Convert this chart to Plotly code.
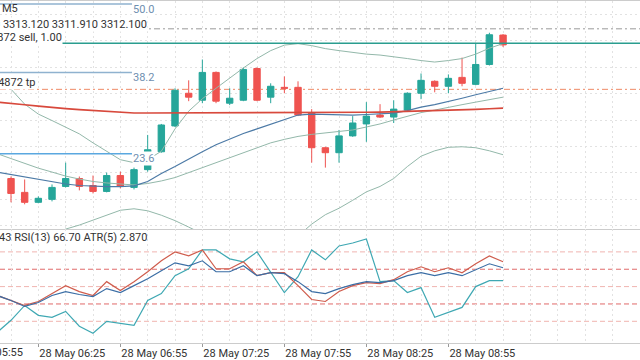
import plotly.graph_objects as go

# ---------------- data ----------------
bar_idx = list(range(37))
opens = [3299.47, 3298.16, 3297.22, 3297.50, 3298.72, 3299.47, 3298.81, 3298.25, 3299.75, 3298.63,
         3300.31, 3302.00, 3304.44, 3307.53, 3306.87, 3309.50, 3306.59, 3306.87, 3309.87, 3307.16,
         3308.09, 3308.09, 3305.66, 3302.38, 3301.91, 3303.50, 3304.63, 3305.47, 3305.28, 3305.94,
         3307.53, 3308.66, 3308.19, 3309.03, 3308.37, 3310.25, 3313.03]
highs = [3299.66, 3299.38, 3297.78, 3298.91, 3300.97, 3299.66, 3299.75, 3300.03, 3300.12, 3300.50,
         3303.59, 3304.63, 3308.00, 3308.75, 3310.72, 3309.59, 3308.00, 3309.97, 3309.97, 3308.47,
         3309.12, 3308.66, 3306.03, 3302.47, 3304.06, 3305.37, 3306.69, 3306.50, 3306.87, 3307.62,
         3309.40, 3308.75, 3309.31, 3310.90, 3312.22, 3313.25, 3313.12]
lows = [3297.22, 3297.03, 3297.13, 3297.31, 3298.63, 3298.35, 3298.06, 3298.16, 3298.53, 3298.44,
        3300.12, 3301.91, 3304.34, 3306.78, 3306.59, 3306.59, 3306.41, 3306.78, 3306.78, 3306.59,
        3307.53, 3305.37, 3300.97, 3300.50, 3300.97, 3303.41, 3302.94, 3305.19, 3304.72, 3305.84,
        3306.97, 3307.62, 3307.53, 3308.19, 3308.28, 3310.15, 3311.91]
closes = [3298.06, 3297.22, 3297.60, 3298.63, 3299.47, 3298.72, 3298.25, 3299.75, 3298.72, 3300.31,
          3302.19, 3304.53, 3307.81, 3307.16, 3309.50, 3306.78, 3307.06, 3309.78, 3306.87, 3308.19,
          3308.00, 3305.47, 3302.38, 3301.91, 3303.50, 3304.72, 3305.37, 3305.28, 3306.03, 3307.53,
          3308.75, 3308.19, 3308.94, 3308.47, 3310.25, 3313.06, 3312.10]

line_idx = list(range(-1, 37))
ma_slow = [3306.69, 3306.59, 3306.45, 3306.31, 3306.17, 3306.08, 3305.98, 3305.89, 3305.80, 3305.70,
           3305.66, 3305.66, 3305.66, 3305.66, 3305.66, 3305.66, 3305.66, 3305.66, 3305.66, 3305.66,
           3305.66, 3305.66, 3305.66, 3305.66, 3305.67, 3305.69, 3305.71, 3305.73, 3305.75, 3305.78,
           3305.81, 3305.84, 3305.88, 3305.92, 3305.97, 3306.01, 3306.07, 3306.12]
ma_fast = [3300.08, 3299.85, 3299.66, 3299.42, 3299.19, 3298.95, 3298.81, 3298.72, 3298.70, 3298.70,
           3298.77, 3299.19, 3299.94, 3300.60, 3301.34, 3302.00, 3302.66, 3303.22, 3303.73, 3304.16,
           3304.58, 3305.05, 3305.47, 3305.56, 3305.52, 3305.47, 3305.47, 3305.52, 3305.56, 3305.66,
           3305.89, 3306.22, 3306.45, 3306.73, 3307.06, 3307.39, 3307.72, 3308.00]
bb_upper = [3308.75, 3307.91, 3306.50, 3305.56, 3304.95, 3304.34, 3303.69, 3302.84, 3302.05, 3301.25,
            3300.97, 3301.25, 3302.05, 3304.16, 3305.84, 3307.01, 3308.00, 3308.98, 3309.92, 3310.81,
            3311.56, 3312.08, 3312.22, 3312.03, 3311.75, 3311.56, 3311.37, 3311.23, 3311.14, 3311.00,
            3310.81, 3310.62, 3310.48, 3310.62, 3310.81, 3311.23, 3311.79, 3312.22]
bb_mid = [3301.81, 3301.34, 3300.88, 3300.45, 3300.08, 3299.70, 3299.42, 3299.19, 3299.05, 3298.95,
          3298.86, 3299.00, 3299.24, 3299.56, 3300.03, 3300.55, 3300.97, 3301.44, 3301.91, 3302.38,
          3302.84, 3303.17, 3303.45, 3303.64, 3303.78, 3303.92, 3304.06, 3304.34, 3304.63, 3305.00,
          3305.37, 3305.70, 3305.94, 3306.22, 3306.45, 3306.69, 3306.92, 3307.16]
bb_lower = [3290.94, 3291.69, 3292.63, 3293.47, 3294.13, 3294.69, 3295.07, 3295.53, 3296.00, 3296.47,
            3296.61, 3296.42, 3296.00, 3295.49, 3294.88, 3294.22, 3293.57, 3293.00, 3292.63, 3292.44,
            3292.54, 3293.00, 3294.03, 3295.16, 3296.05, 3296.66, 3297.41, 3298.21, 3298.72, 3299.47,
            3300.60, 3301.58, 3302.09, 3302.42, 3302.47, 3302.38, 3302.09, 3301.72]

rsi_red = [44.86, 42.00, 39.14, 41.43, 46.00, 50.57, 47.14, 44.86, 52.86, 47.71,
           52.86, 58.57, 64.86, 70.00, 67.71, 71.14, 60.29, 60.29, 64.29, 56.29,
           58.00, 58.00, 50.57, 42.57, 41.43, 47.14, 50.57, 52.29, 51.71, 54.00,
           58.57, 61.43, 58.57, 60.86, 58.00, 63.14, 67.71, 64.29]
rsi_blue = [44.86, 42.00, 38.57, 40.86, 44.86, 47.14, 45.43, 44.29, 48.86, 46.57,
            50.57, 54.57, 59.14, 63.71, 62.00, 64.86, 58.57, 58.57, 62.00, 56.29,
            58.00, 57.43, 52.86, 47.14, 46.00, 48.86, 51.14, 52.86, 52.29, 53.43,
            56.29, 58.00, 56.29, 58.00, 56.29, 59.71, 63.14, 60.86]
rsi_teal = [23.71, 30.57, 39.14, 33.43, 32.29, 35.71, 27.14, 23.14, 30.00, 28.86,
            27.71, 42.00, 46.00, 56.29, 60.29, 71.14, 71.14, 66.00, 64.29, 70.00,
            58.57, 46.57, 55.71, 71.14, 65.43, 73.43, 75.14, 77.43, 52.86, 53.43,
            46.57, 49.43, 32.29, 35.14, 38.00, 50.00, 53.43, 53.43]
rsi_levels = [70, 60, 50, 40, 30]

fib_levels = [3315.96, 3309.50, 3301.81]
fib_labels = ["50.0", "38.2", "23.6"]
fib_end = 8.85
sell_price = 3312.26
ask_price = 3313.62
tp_price = 3307.90

tick_idx = [2, 8, 14, 20, 26, 32]
tick_text = ["28 May 06:25", "28 May 06:55", "28 May 07:25", "28 May 07:55", "28 May 08:25", "28 May 08:55"]
first_label_idx = -4
first_label = "28 May 05:55"

header_lines = ["XAUUSD, M5", "3313.030 3313.120 3311.910 3312.100", "54872 sell, 1.00"]
tp_label = "54872 tp"
ind_label = "1.43 RSI(13) 66.70 ATR(5) 2.870"

# ---------------- style ----------------
W, H = 640, 360
GREEN = "#26a69a"
RED = "#ef5350"
GRID = "#e2e2e2"
TXT = "#333333"
FONT = "Roboto"
XR = [-0.805, 46.02]
YR = [3294.69, 3316.25]
RR = [17.43, 83.14]
MAIN_DOM = [0.3611, 1.0]
SUB_DOM = [0.04167, 0.3611]

fig = go.Figure()

fig.add_trace(go.Candlestick(
    x=bar_idx, open=opens, high=highs, low=lows, close=closes,
    xaxis="x", yaxis="y", whiskerwidth=0, hoverinfo="skip", showlegend=False,
    increasing=dict(line=dict(color=GREEN, width=1), fillcolor=GREEN),
    decreasing=dict(line=dict(color=RED, width=1), fillcolor=RED),
))

for ys, col, w in [(bb_upper, "#93b8aa", 1), (bb_mid, "#93b8aa", 1), (bb_lower, "#93b8aa", 1),
                   (ma_fast, "#4c7aa6", 1.2), (ma_slow, "#d8493c", 1.6)]:
    fig.add_trace(go.Scatter(x=line_idx, y=ys, mode="lines", line=dict(color=col, width=w),
                             xaxis="x", yaxis="y", hoverinfo="skip", showlegend=False))

for ys, col in [(rsi_teal, "#3fa8b3"), (rsi_red, "#cf5c4c"), (rsi_blue, "#3b6ea5")]:
    fig.add_trace(go.Scatter(x=line_idx, y=ys, mode="lines", line=dict(color=col, width=1.2),
                             xaxis="x2", yaxis="y2", hoverinfo="skip", showlegend=False))

shapes = []
shapes.append(dict(type="line", xref="paper", x0=0, x1=1, yref="y", y0=ask_price, y1=ask_price,
                   line=dict(color="#9a9a9a", width=1, dash="6px,3px,2px,3px"), layer="below"))
shapes.append(dict(type="line", xref="paper", x0=0, x1=1, yref="y", y0=tp_price, y1=tp_price,
                   line=dict(color="#ef8a65", width=1, dash="6px,3px,2px,3px"), layer="below"))
shapes.append(dict(type="line", xref="paper", x0=0, x1=1, yref="y", y0=sell_price, y1=sell_price,
                   line=dict(color="#2a9d8f", width=1.5), layer="above"))
for lvl, col in zip(fib_levels, ["#8fb2cf", "#8fb2cf", "#5aa8e0"]):
    shapes.append(dict(type="line", xref="x", x0=XR[0] - 2, x1=fib_end, yref="y", y0=lvl, y1=lvl,
                       line=dict(color=col, width=1.5), layer="above"))
for lvl in rsi_levels:
    col = "#e06a6a" if lvl in (60, 40) else "#f0b4b0"
    shapes.append(dict(type="line", xref="paper", x0=0, x1=1, yref="y2", y0=lvl, y1=lvl,
                       line=dict(color=col, width=1, dash="5px,3px"), layer="below"))

annotations = []
for lvl, lab in zip(fib_levels, fib_labels):
    annotations.append(dict(text=lab, xref="x", yref="y", x=fib_end, y=lvl, xanchor="left",
                            yanchor="middle", yshift=-5, showarrow=False, bgcolor="white",
                            font=dict(family=FONT, size=11, color="#6f8fb0"), borderpad=0))

def px_y(ypx):
    return 1 - ypx / H

hdr_pos = [(8, "left", 0), (24, "right", 148), (36.5, "right", 63)]
for txt, (ypx, anc, xpx) in zip(header_lines, hdr_pos):
    if anc == "left":
        annotations.append(dict(text="M5", xref="paper", yref="paper", x=0, y=px_y(ypx), xanchor="left",
                                yanchor="middle", showarrow=False, font=dict(family=FONT, size=11, color=TXT)))
    else:
        annotations.append(dict(text=txt, xref="paper", yref="paper", x=xpx / W, y=px_y(ypx), xanchor="right",
                                yanchor="middle", showarrow=False, bgcolor="white", borderpad=0,
                                font=dict(family=FONT, size=11, color=TXT)))
annotations.append(dict(text=tp_label, xref="paper", yref="paper", x=36 / W, y=px_y(82), xanchor="right",
                        yanchor="middle", showarrow=False, bgcolor="white", borderpad=0,
                        font=dict(family=FONT, size=11, color=TXT)))
annotations.append(dict(text=ind_label, xref="paper", yref="paper", x=149 / W, y=px_y(238), xanchor="right",
                        yanchor="middle", showarrow=False, font=dict(family=FONT, size=11, color=TXT)))

bar_px = W / (XR[1] - XR[0])
annotations.append(dict(text=first_label, xref="x2", yref="paper", x=XR[0] + 0.001, y=SUB_DOM[0],
                        xanchor="left", yanchor="top", xshift=(first_label_idx - XR[0]) * bar_px - 1, yshift=-1,
                        showarrow=False, font=dict(family=FONT, size=11, color=TXT)))

fig.update_layout(
    width=W, height=H, margin=dict(l=0, r=0, t=0, b=0),
    paper_bgcolor="white", plot_bgcolor="white", showlegend=False, boxgap=0.33,
    font=dict(family=FONT, size=11, color=TXT),
    shapes=shapes, annotations=annotations,
    xaxis=dict(domain=[0, 1], range=XR, anchor="y", showticklabels=False, ticks="",
               showline=True, mirror=True, linecolor="#cccccc", linewidth=1,
               showgrid=True, tickmode="linear", tick0=0, dtick=2, gridcolor=GRID, griddash="2px,3px",
               zeroline=False, rangeslider=dict(visible=False), fixedrange=True),
    yaxis=dict(domain=MAIN_DOM, range=YR, anchor="x", showticklabels=False, ticks="",
               showgrid=True, tickmode="linear", tick0=3305, dtick=2.5, gridcolor=GRID, griddash="2px,3px",
               zeroline=False, fixedrange=True),
    xaxis2=dict(domain=[0, 1], range=XR, anchor="y2", tickmode="array", tickvals=tick_idx, ticktext=tick_text,
                ticks="outside", ticklen=3, tickcolor="#999999", ticklabelposition="outside right",
                showline=True, linecolor="#cccccc", linewidth=1,
                showgrid=True, gridcolor=GRID, griddash="2px,3px",
                minor=dict(tickmode="linear", tick0=0, dtick=2, showgrid=True, gridcolor=GRID, griddash="2px,3px", ticks=""),
                zeroline=False, tickfont=dict(family=FONT, size=11, color=TXT), fixedrange=True),
    yaxis2=dict(domain=SUB_DOM, range=RR, anchor="x2", showticklabels=False, ticks="", showgrid=False,
                zeroline=False, fixedrange=True),
)

fig.write_html("out.html", config={"displayModeBar": False},
               post_script="document.body.style.margin='0';document.body.style.overflow='hidden';")
